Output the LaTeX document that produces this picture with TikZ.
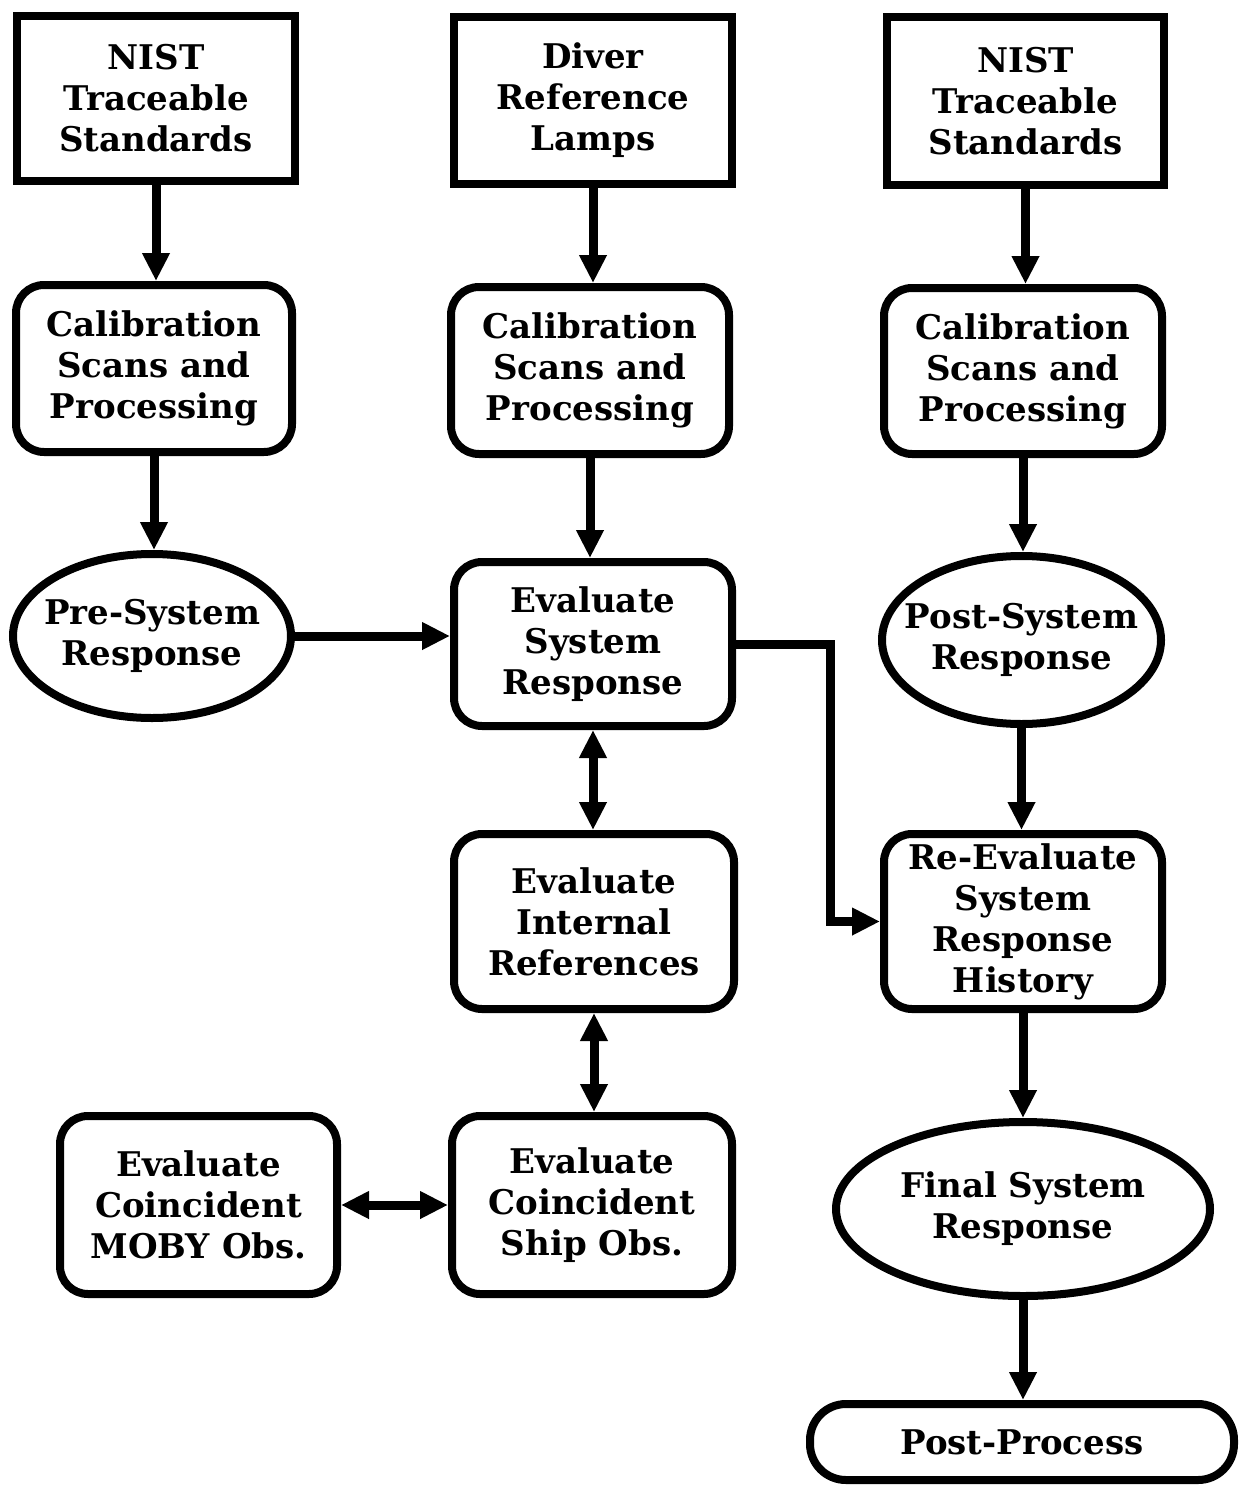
\documentclass[tikz,border=0pt]{standalone}
\usepackage{fontspec}
\setmainfont{DejaVu Serif}
\usetikzlibrary{arrows.meta,shapes.geometric}
\begin{document}
\begin{tikzpicture}[x=0.5pt,y=-0.5pt,
 base/.style={draw=black, line width=4pt, align=center, inner sep=0pt, fill=white,
   font=\bfseries\fontsize{17}{20.5}\selectfont},
 sq/.style={base, rectangle},
 rbox/.style={base, rectangle, rounded corners=14pt},
 ell/.style={base, ellipse, inner xsep=-30pt, inner ysep=-20pt},
 arr/.style={line width=4.5pt, -{Triangle[width=13pt,length=14pt]}},
 darr/.style={line width=4.5pt, {Triangle[width=13pt,length=14pt]}-{Triangle[width=13pt,length=14pt]}},
]
\useasboundingbox (0,0) rectangle (1244,1487);
\fill[white] (0,0) rectangle (1244,1487);

% top row
\node[sq, minimum width=139pt, minimum height=82.5pt] (nist1) at (156,98.5) {NIST\\Traceable\\Standards};
\node[sq, minimum width=139pt, minimum height=83.5pt] (diver) at (593,100.5) {Diver\\Reference\\Lamps};
\node[sq, minimum width=138.5pt, minimum height=84pt] (nist3) at (1025.5,101) {NIST\\Traceable\\Standards};

% calibration row
\node[rbox, minimum width=138pt, minimum height=83.5pt] (cal1) at (154,368.5) {Calibration\\Scans and\\Processing};
\node[rbox, minimum width=139pt, minimum height=83.5pt] (cal2) at (590,370.5) {Calibration\\Scans and\\Processing};
\node[rbox, minimum width=139pt, minimum height=83pt] (cal3) at (1023,371) {Calibration\\Scans and\\Processing};

% response row
\node[ell, minimum width=139pt, minimum height=82pt] (pre) at (152,636) {Pre-System\\Response};
\node[rbox, minimum width=139pt, minimum height=82pt] (evs) at (593,644) {Evaluate\\System\\Response};
\node[ell, minimum width=139.5pt, minimum height=84pt] (post) at (1021.5,640) {Post-System\\Response};

% middle
\node[rbox, minimum width=140pt, minimum height=87.5pt] (eir) at (594,921.5) {Evaluate\\Internal\\References};
\node[rbox, minimum width=139pt, minimum height=87.5pt] (reev) at (1023,921.5) {Re-Evaluate\\System\\Response\\History};

% bottom
\node[rbox, minimum width=138.5pt, minimum height=89pt] (moby) at (198.5,1205) {Evaluate\\Coincident\\MOBY Obs.};
\node[rbox, minimum width=140pt, minimum height=89pt] (ship) at (592,1205) {Evaluate\\Coincident\\Ship Obs.};
\node[ell, minimum width=187pt, minimum height=87pt] (final) at (1023,1209) {Final System\\Response};
\node[rbox, rounded corners=18pt, minimum width=212pt, minimum height=38pt] (pp) at (1022,1442) {Post-Process};

\coordinate (bendx) at (830,0);

% connectors
\draw[arr] (nist1.south) -- (nist1.south |- cal1.north);
\draw[arr] (diver.south) -- (diver.south |- cal2.north);
\draw[arr] (nist3.south) -- (nist3.south |- cal3.north);
\draw[arr] (cal1.south) -- (cal1.south |- pre.north);
\draw[arr] (cal2.south) -- (cal2.south |- evs.north);
\draw[arr] (cal3.south) -- (cal3.south |- post.north);
\draw[arr] (pre.east) -- (pre.east -| evs.west);
\draw[arr] (evs.east) -- (evs.east -| bendx) |- (reev.west);
\draw[darr] (evs.south) -- (evs.south |- eir.north);
\draw[darr] (eir.south) -- (eir.south |- ship.north);
\draw[darr] (moby.east) -- (ship.west);
\draw[arr] (post.south) -- (post.south |- reev.north);
\draw[arr] (reev.south) -- (reev.south |- final.north);
\draw[arr] (final.south) -- (final.south |- pp.north);
\end{tikzpicture}
\end{document}
